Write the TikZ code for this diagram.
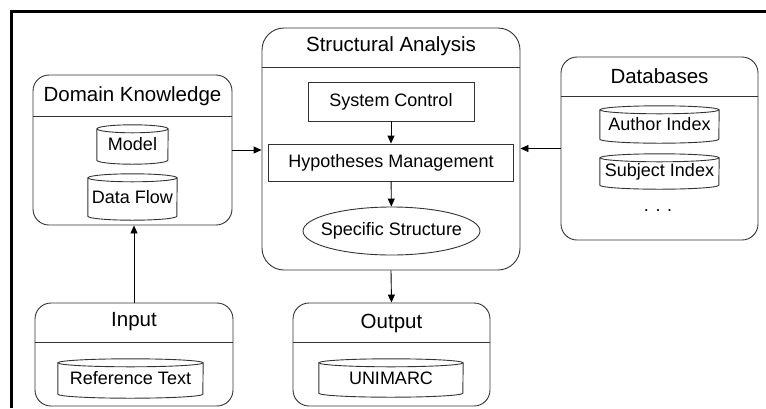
\documentclass[tikz,border=0pt]{standalone}
\usepackage{fontspec}
\setmainfont{Liberation Sans}
\usetikzlibrary{arrows.meta,shapes.geometric}
\tikzset{
         group/.style={draw=black!80, line width=0.9pt, rounded corners=16pt, inner sep=0pt},
         grouptitle/.style={inner sep=0pt, font=\fontsize{20.5}{24}\selectfont},
         item/.style={draw=black!80, line width=0.9pt, inner sep=0pt, font=\fontsize{18}{21}\selectfont},
         store/.style={inner sep=0pt, font=\fontsize{18}{21}\selectfont},
         storeline/.style={draw=black!80, line width=0.9pt},
         arr/.style={line width=0.9pt, -{Triangle[length=8pt,width=7pt]}},
         frame/.style={line width=2.6pt}
        }
% cylinder store: name, centre, width, height, label
\newcommand{\dbstore}[5]{%
  \node[store, minimum width=#3pt, minimum height=#4pt] (#1) at (#2) {#5};
  \draw[storeline] ([yshift=-4pt]#1.north west) -- ([yshift=4pt]#1.south west)
     arc[start angle=180, end angle=360, x radius=#3pt/2, y radius=4pt]
     -- ([yshift=-4pt]#1.north east);
  \draw[storeline] ([yshift=-4pt]#1.north) ellipse[x radius=#3pt/2, y radius=4pt];
}
\begin{document}
\begin{tikzpicture}[x=1pt,y=-1pt]
      \useasboundingbox (0,0) rectangle (766,408);
      \coordinate (fl) at (11.3,408); % frame corners
      \coordinate (ft) at (11.3,11.7);
      \coordinate (fr) at (766,11.7);
      \draw[frame] (fl) -- (ft) -- (fr); % frame
      % Domain Knowledge
      \node[group, minimum width=199pt, minimum height=150pt] (dk) at (132.5,150) {};
      \node[grouptitle] (dktitle) at ([yshift=-22pt]dk.north) {Domain Knowledge};
      \draw[storeline] ([yshift=-42pt]dk.north west) -- ([yshift=-42pt]dk.north east); % divider
      \dbstore{model}{132.5,144.5}{71}{39}{Model}
      \dbstore{flow}{132.5,197}{89}{46}{Data Flow}
      % Structural Analysis
      \node[group, rounded corners=22pt, minimum width=258pt, minimum height=242pt] (sa) at (391,149) {};
      \node[grouptitle] (satitle) at ([yshift=-19pt]sa.north) {Structural Analysis};
      \draw[storeline] ([yshift=-40pt]sa.north west) -- ([yshift=-40pt]sa.north east); % divider
      \node[item, minimum width=166pt, minimum height=39pt] (sc) at (391,101.5) {System Control};
      \node[item, minimum width=245pt, minimum height=37pt] (hm) at (391,162.5) {Hypotheses Management};
      \node[item, ellipse, minimum width=177pt, minimum height=48pt] (ss) at (391.5,231) {\makebox[0pt]{Specific Structure}};
      % Databases
      \node[group, minimum width=197pt, minimum height=183pt] (db) at (659.5,148.5) {};
      \node[grouptitle] (dbtitle) at ([yshift=-20pt]db.north) {Databases};
      \draw[storeline] ([yshift=-40pt]db.north west) -- ([yshift=-40pt]db.north east); % divider
      \dbstore{author}{659.5,124.5}{119}{37}{Author Index}
      \dbstore{subject}{659.5,171.5}{119}{35}{Subject Index}
      \node[store] (more) at (658,211) {. . .};
      % Input
      \node[group, minimum width=198pt, minimum height=103pt] (in) at (134,354.5) {};
      \node[grouptitle] (intitle) at ([yshift=-19pt]in.north) {Input};
      \draw[storeline] ([yshift=-40pt]in.north west) -- ([yshift=-40pt]in.north east); % divider
      \dbstore{reftext}{130.5,378.5}{145}{39}{Reference Text}
      % Output
      \node[group, minimum width=197pt, minimum height=103pt] (out) at (391.5,354.5) {};
      \node[grouptitle] (outtitle) at ([yshift=-21pt]out.north) {Output};
      \draw[storeline] ([yshift=-40pt]out.north west) -- ([yshift=-40pt]out.north east); % divider
      \dbstore{unimarc}{391,378}{144}{38}{UNIMARC}
      % connectors
      \draw[arr] (dk.east) -- (dk.east -| sa.west);
      \draw[arr] (db.west) -- (db.west -| sa.east);
      \draw[arr] (sc) -- (hm);
      \draw[arr] (hm) -- (ss);
      \draw[arr] (sa.south) -- (out.north);
      \draw[arr] (in.north) -- (in.north |- dk.south);
\end{tikzpicture}
\end{document}
